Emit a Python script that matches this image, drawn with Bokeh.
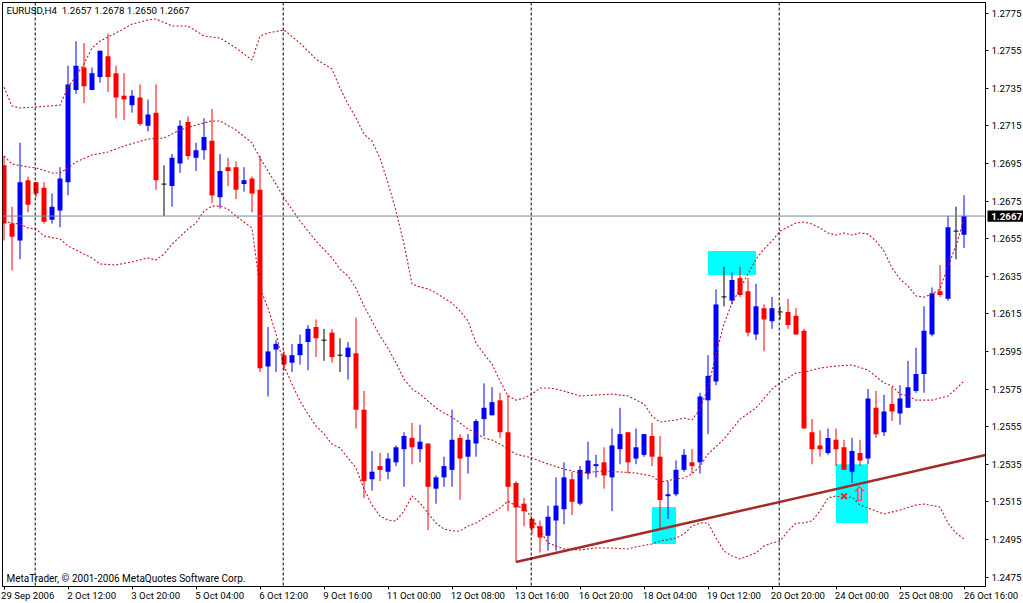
from bokeh.plotting import figure
from bokeh.models import FixedTicker, LinearAxis, Label, Range1d, Span, NumeralTickFormatter, ColumnDataSource
from bokeh.core.properties import value
from bokeh.embed import file_html
from bokeh.resources import INLINE

opens = [1.2694,1.2663,1.2654,1.2686,1.2685,1.2682,1.2665,1.2670,1.2685,1.2734,1.2746,1.2734,1.2741,1.2752,1.2743,1.2731,1.2726,1.2730,1.2715,1.2722,
1.2684,1.2683,1.2695,1.2717,1.2698,1.2702,1.2707,1.2677,1.2693,1.2693,1.2684,1.2687,1.2681,1.2587,1.2596,1.2593,1.2589,1.2593,1.2600,1.2608,
1.2601,1.2605,1.2593,1.2592,1.2594,1.2564,1.2527,1.2534,1.2531,1.2536,1.2543,1.2549,1.2543,1.2546,1.2522,1.2528,1.2532,1.2549,1.2539,1.2546,
1.2559,1.2561,1.2569,1.2552,1.2525,1.2514,1.2506,1.2502,1.2497,1.2505,1.2511,1.2527,1.2514,1.2530,1.2534,1.2536,1.2528,1.2543,1.2552,1.2538,
1.2540,1.2550,1.2539,1.2518,1.2519,1.2532,1.2536,1.2536,1.2569,1.2579,1.2624,1.2622,1.2634,1.2627,1.2604,1.2618,1.2611,1.2616,1.2616,1.2614,
1.2606,1.2552,1.2545,1.2541,1.2548,1.2544,1.2531,1.2541,1.2538,1.2565,1.2552,1.2567,1.2562,1.2565,1.2574,1.2583,1.2604,1.2627,1.2623,1.2659,1.2657]
highs = [1.2699,1.2672,1.2706,1.2688,1.2685,1.2685,1.2679,1.2693,1.2747,1.2760,1.2759,1.2746,1.2755,1.2764,1.2747,1.2743,1.2734,1.2737,1.2729,1.2737,
1.2694,1.2700,1.2718,1.2720,1.2706,1.2719,1.2724,1.2700,1.2698,1.2696,1.2693,1.2688,1.2699,1.2608,1.2601,1.2595,1.2599,1.2604,1.2609,1.2612,
1.2607,1.2607,1.2602,1.2600,1.2613,1.2574,1.2542,1.2541,1.2541,1.2545,1.2552,1.2557,1.2556,1.2546,1.2529,1.2539,1.2564,1.2551,1.2551,1.2559,
1.2578,1.2576,1.2573,1.2572,1.2526,1.2517,1.2506,1.2505,1.2513,1.2528,1.2536,1.2531,1.2534,1.2547,1.2540,1.2544,1.2554,1.2565,1.2552,1.2554,
1.2551,1.2557,1.2550,1.2526,1.2537,1.2543,1.2543,1.2573,1.2593,1.2628,1.2640,1.2637,1.2640,1.2634,1.2631,1.2620,1.2624,1.2619,1.2623,1.2618,
1.2607,1.2559,1.2553,1.2554,1.2554,1.2548,1.2549,1.2548,1.2575,1.2574,1.2572,1.2576,1.2577,1.2590,1.2597,1.2619,1.2629,1.2641,1.2667,1.2672,1.2678]
lows = [1.2654,1.2638,1.2644,1.2669,1.2677,1.2663,1.2663,1.2661,1.2678,1.2732,1.2727,1.2734,1.2738,1.2733,1.2719,1.2718,1.2722,1.2715,1.2712,1.2681,
1.2667,1.2672,1.2690,1.2697,1.2691,1.2697,1.2674,1.2671,1.2683,1.2676,1.2680,1.2669,1.2584,1.2571,1.2584,1.2585,1.2584,1.2588,1.2585,1.2592,
1.2590,1.2589,1.2584,1.2580,1.2554,1.2517,1.2521,1.2526,1.2527,1.2534,1.2523,1.2535,1.2536,1.2500,1.2514,1.2523,1.2523,1.2516,1.2530,1.2539,
1.2550,1.2561,1.2549,1.2510,1.2483,1.2502,1.2498,1.2488,1.2489,1.2489,1.2503,1.2508,1.2513,1.2527,1.2528,1.2522,1.2510,1.2535,1.2530,1.2535,
1.2539,1.2534,1.2500,1.2506,1.2518,1.2531,1.2530,1.2530,1.2551,1.2577,1.2619,1.2620,1.2624,1.2603,1.2601,1.2595,1.2607,1.2612,1.2607,1.2604,
1.2554,1.2535,1.2539,1.2540,1.2534,1.2532,1.2525,1.2534,1.2535,1.2549,1.2550,1.2558,1.2556,1.2565,1.2573,1.2573,1.2603,1.2624,1.2622,1.2644,1.2650]
closes = [1.2663,1.2656,1.2685,1.2673,1.2679,1.2664,1.2672,1.2687,1.2737,1.2747,1.2736,1.2743,1.2755,1.2741,1.2730,1.2729,1.2731,1.2716,1.2721,1.2686,
1.2684,1.2698,1.2715,1.2699,1.2702,1.2709,1.2678,1.2691,1.2691,1.2681,1.2686,1.2679,1.2586,1.2595,1.2599,1.2588,1.2593,1.2599,1.2607,1.2602,
1.2601,1.2592,1.2593,1.2597,1.2564,1.2526,1.2531,1.2532,1.2538,1.2544,1.2550,1.2544,1.2547,1.2523,1.2528,1.2534,1.2548,1.2538,1.2548,1.2558,
1.2565,1.2568,1.2552,1.2523,1.2512,1.2510,1.2501,1.2496,1.2507,1.2513,1.2528,1.2515,1.2532,1.2537,1.2535,1.2529,1.2545,1.2551,1.2536,1.2544,
1.2551,1.2539,1.2516,1.2519,1.2532,1.2540,1.2534,1.2571,1.2582,1.2620,1.2624,1.2633,1.2625,1.2605,1.2619,1.2612,1.2618,1.2616,1.2609,1.2604,
1.2554,1.2543,1.2543,1.2549,1.2543,1.2532,1.2542,1.2537,1.2570,1.2551,1.2563,1.2563,1.2570,1.2576,1.2583,1.2606,1.2626,1.2625,1.2661,1.2659,1.2667]

upper_idx = [0,1,2,4,7,8,9,10,11,12,14,16,18,19,21,23,25,27,29,31,32,33,35,37,39,41,42,43,44,45,46,47,48,49,50,51,52,53,54,55,56,57,58,59,60,61,62,63,64,65,66,67,68,69,70,72,74,76,78,80,81,82,84,85,86,87,88,89,90,91,92,93,94,95,96,97,98,99,100,101,102,103,104,105,106,107,108,109,110,111,112,113,114,115,116,117,118,119,120]
upper = [1.27356,1.27255,1.27245,1.2725,1.2726,1.27356,1.27415,1.27479,1.27564,1.27601,1.27644,1.27691,1.27713,1.27718,1.27681,1.27681,1.27628,1.27617,1.27564,1.2750,1.27628,1.27644,1.2766,1.2759,1.27505,1.27452,1.27351,1.27266,1.27191,1.27106,1.27069,1.26979,1.26846,1.26697,1.26521,1.26309,1.26293,1.26282,1.26261,1.26234,1.26207,1.26165,1.26112,1.25995,1.25936,1.25883,1.25793,1.25713,1.25691,1.25702,1.25723,1.25755,1.25755,1.2575,1.25739,1.25713,1.25718,1.25723,1.25713,1.2567,1.25606,1.25574,1.25585,1.25596,1.25585,1.25644,1.25755,1.25936,1.26096,1.26207,1.26282,1.26362,1.26441,1.26495,1.26537,1.2659,1.26612,1.26633,1.26638,1.26628,1.26606,1.2658,1.26569,1.2658,1.26569,1.2658,1.26574,1.26537,1.26484,1.26394,1.26335,1.26298,1.26245,1.26239,1.26255,1.26282,1.26404,1.26511,1.26654]

middle_idx = [0,1,3,4,6,7,8,9,11,13,15,18,20,22,24,26,27,29,31,32,34,35,37,39,41,42,43,44,45,46,47,48,49,50,51,52,53,54,55,56,57,58,59,60,61,62,64,66,68,70,72,75,77,79,81,82,84,85,86,87,88,90,92,94,96,97,98,99,100,102,104,106,108,110,111,112,113,114,116,118,119,120]
middle = [1.26989,1.26947,1.26931,1.26926,1.26899,1.26899,1.26926,1.26957,1.26995,1.27011,1.27043,1.2708,1.27085,1.27128,1.27154,1.27176,1.27176,1.27128,1.27059,1.26979,1.2684,1.26766,1.26644,1.26537,1.26447,1.26388,1.26351,1.26287,1.26191,1.26112,1.26032,1.25968,1.25888,1.25803,1.2575,1.25723,1.25686,1.25649,1.25622,1.25601,1.25569,1.25537,1.25516,1.25489,1.25479,1.25457,1.25404,1.25383,1.25351,1.25324,1.25303,1.25314,1.25309,1.25303,1.25287,1.25255,1.25271,1.25277,1.25298,1.2534,1.25404,1.25484,1.2559,1.25649,1.2575,1.25782,1.25809,1.25835,1.2584,1.25862,1.25872,1.25878,1.25851,1.25782,1.25766,1.25723,1.25713,1.25691,1.25691,1.25713,1.2575,1.25793]

lower_idx = [0,1,2,3,4,5,7,8,10,11,12,14,16,18,19,20,21,23,24,25,26,27,28,29,31,32,33,34,35,36,37,38,39,40,41,42,43,44,45,46,47,48,49,50,51,52,53,54,55,56,57,58,59,60,61,62,63,64,65,66,67,68,69,70,72,74,76,78,79,81,82,84,85,86,87,88,89,90,91,92,93,94,95,96,97,98,99,100,101,102,103,104,105,106,107,108,110,112,114,115,117,118,119,120]
lower = [1.26644,1.26633,1.26628,1.26606,1.26601,1.26564,1.26548,1.26511,1.26468,1.26447,1.26415,1.2641,1.26426,1.26447,1.26436,1.26468,1.26521,1.26601,1.26633,1.26697,1.26723,1.26723,1.26707,1.2667,1.26606,1.26287,1.26181,1.26043,1.25872,1.25777,1.25686,1.25617,1.25553,1.25511,1.25457,1.25436,1.25383,1.2533,1.25218,1.25133,1.25074,1.25053,1.25048,1.25101,1.25181,1.25144,1.2509,1.25037,1.25005,1.24995,1.24995,1.25021,1.25037,1.25064,1.2509,1.25117,1.25154,1.25128,1.25117,1.25064,1.24995,1.24931,1.24915,1.24899,1.24894,1.24904,1.24904,1.24899,1.2491,1.24926,1.24941,1.24957,1.24979,1.25021,1.25037,1.25037,1.24957,1.24888,1.24862,1.24846,1.24862,1.24878,1.24915,1.24931,1.24941,1.24995,1.25037,1.25037,1.25048,1.25101,1.2517,1.25181,1.2517,1.25176,1.25133,1.25117,1.25085,1.25106,1.25133,1.25138,1.25122,1.25037,1.24984,1.24952]

date_labels = ["29 Sep 2006","2 Oct 12:00","3 Oct 20:00","5 Oct 04:00","6 Oct 12:00","9 Oct 16:00","11 Oct 00:00","12 Oct 08:00","13 Oct 16:00","16 Oct 20:00","18 Oct 04:00","19 Oct 12:00","20 Oct 20:00","24 Oct 00:00","25 Oct 08:00","26 Oct 16:00"]
date_bars = [8 * k for k in range(16)]
price_ticks = [1.2475,1.2495,1.2515,1.2535,1.2555,1.2575,1.2595,1.2615,1.2635,1.2655,1.2675,1.2695,1.2715,1.2735,1.2755,1.2775]
session_bars = [4, 35, 66, 97]
zones = [(81, 84, 1.24926, 1.25122), (88, 94, 1.26356, 1.26484), (104, 108, 1.25037, 1.2535)]
trend_bars = [64, 122.7]
trend_prices = [1.2483, 1.25399]
last_price = 1.2667
cross_bar, cross_price = 105, 1.2518
arrow_bar, arrow_price = 107, 1.2519

FONT = "Roboto"

p = figure(frame_width=983, frame_height=584, output_backend="svg", toolbar_location=None,
           x_range=Range1d(-0.1875, 122.6875), y_range=Range1d(1.246995, 1.27806),
           x_axis_type=None, y_axis_type=None,
           min_border_left=2, min_border_right=0, min_border_top=2, min_border_bottom=0)
p.margin = (0, 0, 0, 0)
p.background_fill_color = "white"
p.border_fill_color = "white"
p.outline_line_color = "black"
p.outline_line_width = 1
p.grid.visible = False

# zones
for b0, b1, lo, hi in zones:
    p.quad(left=[b0], right=[b1], bottom=[lo], top=[hi], fill_color="#00FFFF", line_color=None)

# session separators and last price
for b in session_bars:
    p.add_layout(Span(location=b - 0.1, dimension="height", line_color="black", line_width=1, line_dash="3 2"))
p.add_layout(Span(location=last_price, dimension="width", line_color="#778899", line_width=1))

# candles
idx = list(range(len(opens)))
def colour(o, c):
    return "#0000FF" if c > o else ("#FF0000" if c < o else "#000000")
cols = [colour(o, c) for o, c in zip(opens, closes)]
src = ColumnDataSource(dict(x=idx, o=opens, h=highs, l=lows, c=closes, col=cols,
                            top=[max(a, b) for a, b in zip(opens, closes)],
                            bot=[min(a, b) for a, b in zip(opens, closes)]))
p.segment("x", "h", "x", "l", source=src, line_color="col", line_width=1)
p.vbar(x="x", width=0.625, top="top", bottom="bot", source=src, fill_color="col", line_color=None)
doji = [i for i in idx if opens[i] == closes[i]]
p.segment([i - 0.3125 for i in doji], [opens[i] for i in doji], [i + 0.3125 for i in doji], [opens[i] for i in doji],
          line_color="black", line_width=1)

# bands
for xs, ys in ((upper_idx, upper), (middle_idx, middle), (lower_idx, lower)):
    p.line(xs, ys, line_color="#BE1822", line_width=1.1, line_dash="2 2")

# trend line
p.line(trend_bars, trend_prices, line_color="#A52A2A", line_width=2.5)

# signal marks
p.scatter([cross_bar], [cross_price], marker="x", size=8, line_color="#FF2020", line_width=2)
p.text([arrow_bar], [arrow_price], text=["\u21E7"], text_font=value("DejaVu Sans"), text_font_size="20px",
       text_font_style="bold", text_color="#E8506A", text_align="center", text_baseline="middle")

# axes
shown = date_labels[:-1]
below = LinearAxis(ticker=FixedTicker(ticks=[round(b + len(t) * 0.27, 2) for b, t in zip(date_bars, shown)],
                                      minor_ticks=date_bars),
                   major_label_overrides={round(b + len(t) * 0.27, 2): t for b, t in zip(date_bars, shown)},
                   major_tick_line_color=None, major_tick_out=0, major_tick_in=0, minor_tick_out=3, minor_tick_in=0,
                   minor_tick_line_color="black", axis_line_color="black",
                   major_label_text_font=FONT, major_label_text_font_size="9.6px", major_label_text_color="black",
                   major_label_standoff=0)
p.add_layout(below, "below")
right = LinearAxis(ticker=FixedTicker(ticks=price_ticks), formatter=NumeralTickFormatter(format="0.0000"),
                   major_tick_out=3, major_tick_in=0, major_tick_line_color="black",
                   axis_line_color="black",
                   major_label_text_font=FONT, major_label_text_font_size="9.8px", major_label_text_color="black",
                   major_label_standoff=3)
p.add_layout(right, "right")

# texts
p.add_layout(Label(x=0.3, y=1.27763, text="EURUSD,H4\u00A0\u00A01.2657 1.2678 1.2650 1.2667",
                   text_font=FONT, text_font_size="9.8px", text_color="black", text_baseline="middle"))
p.add_layout(Label(x=0.3, y=1.24742, text="MetaTrader, \u00A9 2001-2006 MetaQuotes Software Corp.",
                   text_font=FONT, text_font_size="10px", text_color="black", text_baseline="middle"))
# texts outside the frame
box_half = 0.0003
p.quad(left=[122.94], right=[127.5], bottom=[last_price - box_half], top=[last_price + box_half],
       fill_color="black", line_color=None, level="overlay")
p.text([123.4], [last_price], text=["1.2667"], text_font=value(FONT), text_font_size="9.8px", text_font_style="bold",
       text_color="white", text_baseline="middle", level="overlay")
p.text([120.0], [1.24652], text=[date_labels[-1]], text_font=value(FONT), text_font_size="9.6px",
       text_color="black", text_baseline="middle", level="overlay")

open("out.html", "w").write(file_html(p, INLINE))
